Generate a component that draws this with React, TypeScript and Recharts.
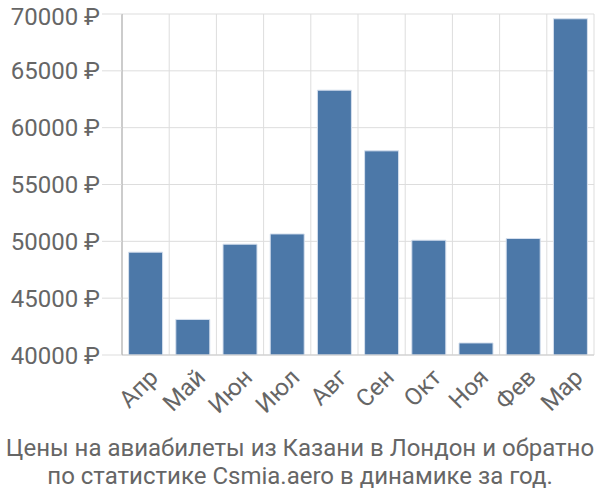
import React from "react";
import { BarChart, Bar, XAxis, YAxis, CartesianGrid, ReferenceLine } from "recharts";

const months = ["Апр", "Май", "Июн", "Июл", "Авг", "Сен", "Окт", "Ноя", "Фев", "Мар"];
const prices = [49050, 43130, 49750, 50650, 63300, 57960, 50100, 41060, 50250, 69580];
const yTicks = [40000, 45000, 50000, 55000, 60000, 65000, 70000];
const boundaryTicks = [0, 1, 2, 3, 4, 5, 6, 7, 8, 9, 10];
const titleLines = [
  "Цены на авиабилеты из Казани в Лондон и обратно",
  "по статистике Csmia.aero в динамике за год.",
];

const data = months.map((m, i) => ({ month: m, price: prices[i], idx: i + 0.5 }));

const FONT = "Roboto, 'Liberation Sans', Arial, sans-serif";
const TEXT = "#666666";
const GRID = "#dddddd";

const XTick = (props: any) => {
  const { x, y, payload } = props;
  return (
    <g transform={`translate(${x + 2},${y + 4})`}>
      <text
        transform="rotate(-45)"
        textAnchor="end"
        dy="0.7em"
        fill={TEXT}
        fontSize={24}
        fontFamily={FONT}
      >
        {payload.value}
      </text>
    </g>
  );
};

export default function App() {
  return (
    <div style={{ position: "absolute", left: 0, top: 0, width: 600, height: 500, background: "#fff" }}>
      <BarChart
        width={600}
        height={500}
        data={data}
        margin={{ top: 14, right: 6, left: 0, bottom: 85 }}
        barCategoryGap="14%"
      >
        <XAxis
          xAxisId="grid"
          type="number"
          dataKey="idx"
          domain={[0, 10]}
          ticks={boundaryTicks}
          tick={false}
          tickSize={20}
          tickLine={{ stroke: GRID }}
          axisLine={false}
          height={0}
          allowDataOverflow
        />
        <CartesianGrid vertical={false} stroke={GRID} strokeWidth={1} />
        {boundaryTicks.map((b) => (
          <ReferenceLine key={b} x={b} xAxisId="grid" stroke={GRID} strokeWidth={1} />
        ))}
        <XAxis
          dataKey="month"
          tick={<XTick />}
          tickLine={false}
          axisLine={{ stroke: "#cccccc" }}
          interval={0}
          height={60}
        />
        <YAxis
          domain={[40000, 70000]}
          ticks={yTicks}
          width={122}
          tickSize={20}
          tickMargin={2}
          tickLine={{ stroke: GRID }}
          axisLine={{ stroke: "#aaaaaa" }}
          tick={{ fill: TEXT, fontSize: 24, fontFamily: FONT }}
          tickFormatter={(v: number) => `${v} ₽`}
          allowDataOverflow
        />
        <Bar dataKey="price" fill="#4c78a8" stroke="#d6e0ee" strokeWidth={1} isAnimationActive={false} />
      </BarChart>
      <div
        style={{
          position: "absolute",
          left: 0,
          top: 434,
          width: 600,
          textAlign: "center",
          fontFamily: FONT,
          fontSize: 24,
          lineHeight: "28px",
          color: TEXT,
          whiteSpace: "nowrap",
        }}
      >
        {titleLines.map((l) => (
          <div key={l}>{l}</div>
        ))}
      </div>
    </div>
  );
}
